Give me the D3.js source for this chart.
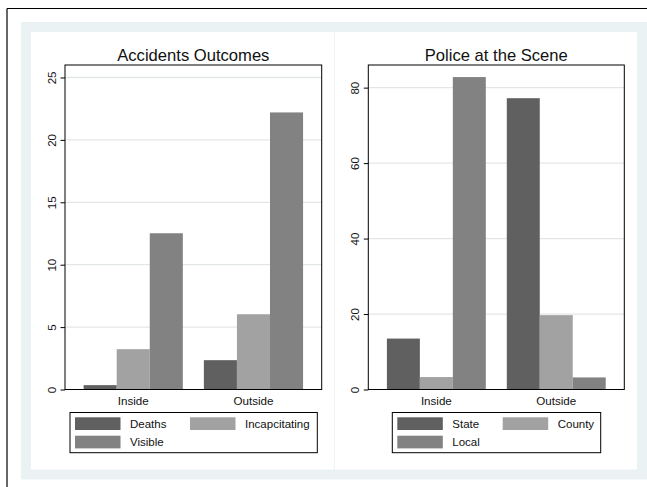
<!DOCTYPE html>
<html>
<head>
<meta charset="utf-8">
<script src="https://cdn.jsdelivr.net/npm/d3@7"></script>
<style>
  html, body { margin: 0; padding: 0; background: #ffffff; }
  svg { display: block; font-family: "Liberation Sans", Arial, Helvetica, sans-serif; }
</style>
</head>
<body>
<svg id="chart" width="647" height="487"></svg>
<script>
// Group labels shared by both panels
const groups = ["Inside", "Outside"];

// Panel 1: accident outcomes
const outcomeSeries = ["Deaths", "Incapcitating", "Visible"];
const deaths = [0.35, 2.35];
const incapacitating = [3.23, 6.03];
const visible = [12.52, 22.2];
const outcomeTicks = [0, 5, 10, 15, 20, 25];

// Panel 2: police at the scene (percent)
const policeSeries = ["State", "County", "Local"];
const statePolice = [13.5, 77.2];
const countyPolice = [3.3, 19.7];
const localPolice = [82.8, 3.2];
const policeTicks = [0, 20, 40, 60, 80];

const seriesColors = ["#606060", "#a2a2a2", "#828282"];

const svg = d3.select("#chart");

// Outer frame and backgrounds
svg.append("rect").attr("x", 21).attr("y", 22).attr("width", 626).attr("height", 457.5).attr("fill", "#eaf2f3");
svg.append("rect").attr("x", 31).attr("y", 32).attr("width", 303).attr("height", 437.5).attr("fill", "#ffffff");
svg.append("rect").attr("x", 334.6).attr("y", 32).attr("width", 302.4).attr("height", 437.5).attr("fill", "#ffffff");
svg.append("line").attr("x1", 334.3).attr("x2", 334.3).attr("y1", 32).attr("y2", 469.5).attr("stroke", "#f1f3f3").attr("stroke-width", 0.8);
svg.append("line").attr("x1", 7).attr("x2", 7).attr("y1", 8.5).attr("y2", 487).attr("stroke", "#000").attr("stroke-width", 1.2);
svg.append("line").attr("x1", 7).attr("x2", 647).attr("y1", 8.5).attr("y2", 8.5).attr("stroke", "#000").attr("stroke-width", 1.2);

function drawPanel(cfg) {
  const g = svg.append("g");
  const top = 65, bottom = 389.5;

  const x0 = d3.scaleBand().domain(groups).range([cfg.left, cfg.right])
    .paddingInner(0.175).paddingOuter(0.155);
  const x1 = d3.scaleBand().domain(cfg.series).range([0, x0.bandwidth()]);
  const y = d3.scaleLinear().domain([0, cfg.yMax]).range([bottom, top]);

  // Gridlines
  g.selectAll("line.grid").data(cfg.ticks.filter(t => t > 0)).enter()
    .append("line")
    .attr("x1", cfg.left).attr("x2", cfg.right)
    .attr("y1", d => y(d)).attr("y2", d => y(d))
    .attr("stroke", "#e3e6e7").attr("stroke-width", 1.3);

  // Bars
  cfg.series.forEach((s, si) => {
    g.selectAll(null).data(groups.map((grp, gi) => ({ grp, v: cfg.values[si][gi] }))).enter()
      .append("rect")
      .attr("x", d => x0(d.grp) + x1(s))
      .attr("width", x1.bandwidth())
      .attr("y", d => y(d.v))
      .attr("height", d => bottom - y(d.v))
      .attr("fill", seriesColors[si]);
  });

  // Plot frame
  g.append("rect").attr("x", cfg.left).attr("y", top)
    .attr("width", cfg.right - cfg.left).attr("height", bottom - top)
    .attr("fill", "none").attr("stroke", "#000").attr("stroke-width", 1);

  // Y axis ticks with rotated labels
  const yAxis = d3.axisLeft(y).tickValues(cfg.ticks).tickSize(4.5).tickPadding(4.5);
  const ax = g.append("g").attr("transform", `translate(${cfg.left},0)`).call(yAxis);
  ax.select(".domain").remove();
  ax.selectAll(".tick line").attr("stroke", "#000");
  ax.selectAll(".tick text")
    .attr("x", null).attr("dy", null)
    .attr("text-anchor", "middle")
    .attr("transform", "translate(-9.5,0) rotate(-90)")
    .attr("y", 0)
    .attr("font-size", 11.5)
    .attr("fill", "#111");

  // Group labels
  const xAxis = d3.axisBottom(x0).tickSize(0).tickPadding(7);
  const bx = g.append("g").attr("transform", `translate(0,${bottom})`).call(xAxis);
  bx.select(".domain").remove();
  bx.selectAll(".tick text").attr("font-size", 11.6).attr("fill", "#111").attr("dy", "0.71em");

  // Title
  g.append("text").attr("x", (cfg.left + cfg.right) / 2).attr("y", 60.5)
    .attr("text-anchor", "middle").attr("font-size", 16.6).attr("fill", "#111")
    .text(cfg.title);

  // Legend
  const lg = g.append("g");
  lg.append("rect").attr("x", cfg.legendX).attr("y", 412.5)
    .attr("width", cfg.legendW).attr("height", 40.2)
    .attr("fill", "#fff").attr("stroke", "#000").attr("stroke-width", 1);
  cfg.series.forEach((s, si) => {
    const col = si % 2, row = Math.floor(si / 2);
    const sx = cfg.legendX + 5 + col * cfg.legendCol;
    const sy = 417.3 + row * 18.4;
    lg.append("rect").attr("x", sx).attr("y", sy).attr("width", 45.5).attr("height", 12.7)
      .attr("fill", seriesColors[si]);
    lg.append("text").attr("x", sx + 55).attr("y", sy + 10.2)
      .attr("font-size", 11.5).attr("fill", "#111").text(s);
  });
}

drawPanel({
  title: "Accidents Outcomes", left: 65, right: 321.7, yMax: 26,
  series: outcomeSeries, values: [deaths, incapacitating, visible], ticks: outcomeTicks,
  legendX: 70, legendW: 247.3, legendCol: 115
});

drawPanel({
  title: "Police at the Scene", left: 368.3, right: 624.3, yMax: 86,
  series: policeSeries, values: [statePolice, countyPolice, localPolice], ticks: policeTicks,
  legendX: 392.3, legendW: 208.4, legendCol: 105.4
});
</script>
</body>
</html>
